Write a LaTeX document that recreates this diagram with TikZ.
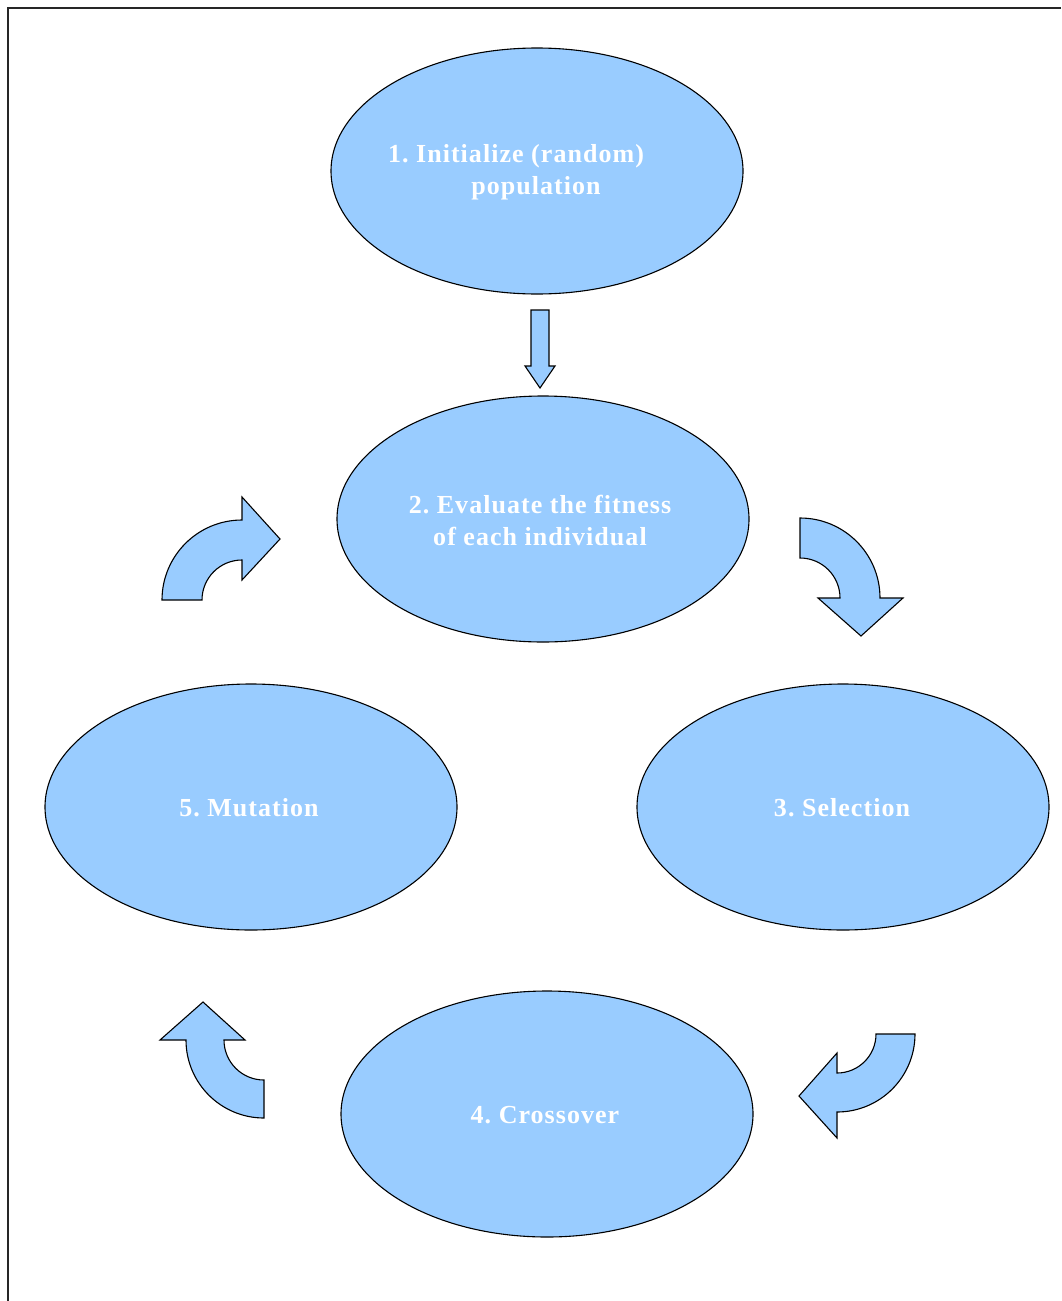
\documentclass[tikz,border=0pt]{standalone}
\usepackage{fontspec}
\setmainfont{Liberation Serif}
\newfontfamily\lblfont[LetterSpace=4]{Liberation Serif}
\usetikzlibrary{shapes.geometric}
\definecolor{ellblue}{HTML}{99CCFF}
\tikzset{
  stage/.style={ellipse, draw=black, line width=1.1pt, fill=ellblue, minimum width=412pt, minimum height=246pt, inner sep=0pt},
  lbl/.style={text=white, font=\lblfont\fontsize{26}{31}\selectfont\bfseries\frenchspacing, inner sep=0pt, anchor=center},
  blockarrow/.style={draw=black, line width=1.1pt, fill=ellblue, line join=miter},
  frameline/.style={draw=black!85, line width=1.5pt}
}
\begin{document}
\begin{tikzpicture}[x=1pt,y=-1pt]
\useasboundingbox (0,0) rectangle (1061,1301);
\fill[white] (0,0) rectangle (1061,1301);
% frame
\coordinate (fTR) at (1061,8);
\coordinate (fTL) at (8,8);
\coordinate (fBL) at (8,1301);
\draw[frameline] (fTR) -- (fTL) -- (fBL);
% ellipses
\node[stage] (e1) at (537,171) {};
\node[stage] (e2) at (543,519) {};
\node[stage] (e3) at (843,807) {};
\node[stage] (e4) at (547,1114) {};
\node[stage] (e5) at (251,807) {};
% labels
\node[lbl] (t1a) at (516,156) {1. Initialize (random)};
\node[lbl] (t1b) at (536,188) {population};
\node[lbl] (t2a) at (540,505) {2. Evaluate the fitness};
\node[lbl] (t2b) at (540,536) {of each individual};
\node[lbl] (t3) at (842,808) {3. Selection};
\node[lbl] (t4) at (545,1115) {4. Crossover};
\node[lbl] (t5) at (249,808) {5. Mutation};
% straight block arrow 1 -> 2
\draw[blockarrow] (531,310) -- (549,310) -- (549,366) -- (555,366) -- (540,388) -- (525,366) -- (531,366) -- cycle;
% curved arrow upper left (5 -> 2)
\draw[blockarrow] (162,600) arc[start angle=180, end angle=270, radius=80]
  -- (242,497) -- (280,539) -- (242,580) -- (242,560)
  arc[start angle=270, end angle=180, radius=40] -- cycle;
% curved arrow upper right (2 -> 3)
\draw[blockarrow] (800,518) arc[start angle=270, end angle=360, radius=80]
  -- (903,598) -- (861,636) -- (818,598) -- (840,598)
  arc[start angle=0, end angle=-90, radius=40] -- cycle;
% curved arrow lower right (3 -> 4)
\draw[blockarrow] (915,1034) arc[start angle=0, end angle=90, radius=78]
  -- (837,1138) -- (799,1096) -- (837,1053) -- (837,1073)
  arc[start angle=90, end angle=0, radius=39] -- cycle;
% curved arrow lower left (4 -> 5)
\draw[blockarrow] (264,1118) arc[start angle=90, end angle=180, radius=78]
  -- (160,1040) -- (203,1002) -- (245,1040) -- (224,1040)
  arc[start angle=180, end angle=90, radius=40] -- cycle;
\end{tikzpicture}
\end{document}
